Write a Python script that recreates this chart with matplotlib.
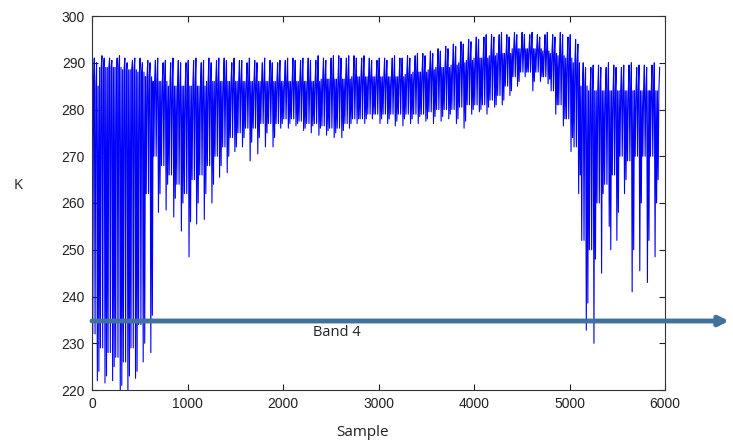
import numpy as np
import matplotlib
matplotlib.use("Agg")
import matplotlib.pyplot as plt

# ---- data (per 80-sample block) ----
block_len = 80
block_start = list(range(0, 6000, 80))[:75]
peak_k = [291, 291.5, 291, 291, 291, 290.5, 291, 290.5,
          290.5, 290, 290, 290.5, 290, 290.5, 290, 291, 290.5, 291, 290, 290.5,
          290, 290.5, 290, 290.5, 290,
          290.5, 291, 290.5, 291, 290.5, 291, 291, 291.5, 291, 291.5, 291, 291, 290.5,
          291, 291, 291, 291.5, 291.5, 292, 292.5, 293, 293.5, 294, 294.5, 295,
          295.5, 295.5, 296, 296, 296, 296.5, 296.5, 296, 296, 296, 296, 296.5,
          295.5, 295, 290, 289, 289.5, 289, 289.5, 289, 289.5, 289, 289.5, 289.5, 289]
peak2_k = [290, 291, 290.5, 291.5, 290, 291, 290, 290,
           291, 290.5, 291, 290, 290.5, 291, 290.5, 290, 291, 290.5, 291, 290.5,
           291, 290, 291, 290, 290.5,
           291, 290.5, 291, 290.5, 291.5, 290.5, 291.5, 291, 291.5, 291, 291.5, 290.5, 291,
           290.5, 291.5, 291, 291, 292, 291.5, 292, 292.5, 293, 293.5, 294, 294.5,
           295, 296, 295.5, 296.5, 295.5, 296, 296, 296.5, 295.5, 296.5, 295.5, 296,
           296, 294, 289, 289.5, 289, 290, 289, 289.5, 290, 289.5, 289, 290, 288.5]
band_hi = [285, 289, 289, 289, 288.5, 288.5, 288, 287,
           286, 286, 285, 285, 285, 285, 285, 286, 286, 286, 286, 286,
           286, 286, 286, 286, 286,
           286, 286, 286, 286, 286, 286.5, 286.5, 286.5, 286.5, 287, 287, 287, 287,
           287, 287, 287, 287.5, 288, 288, 288.5, 289, 289, 289.5, 290, 290.5,
           291, 291, 291.5, 292, 292, 293, 293, 293, 293, 292.5, 292, 291.5,
           291, 290, 285, 284, 284, 284, 284, 284, 284, 284, 284, 284, 284]
band_lo = [232, 229, 228, 227, 226, 229, 234, 262,
           270, 268, 266, 264, 262, 265, 266, 268, 270, 272, 274, 275,
           276, 276, 277, 277, 277,
           278, 278, 277.5, 277, 277, 276.5, 276, 276, 277, 278, 278, 279, 279,
           279, 279, 279, 279, 279, 279, 279.5, 280, 280, 280, 280.5, 281,
           281, 281, 282, 283, 285, 287, 288, 288, 288, 287, 284, 281,
           278, 272, 252, 250, 260, 264, 266, 270, 269, 270, 270, 270, 265]
dip_k = [222, 221.5, 222, 219, 218, 222.5, 226, 228,
         258, 258.5, 257, 254, 248.5, 255.5, 256.5, 260, 265.5, 266.5, 271, 272,
         269, 270.5, 272, 272, 276,
         276, 276.5, 275.5, 275, 274.5, 274.5, 274, 274, 276, 277, 277, 278, 277,
         277, 276.5, 276.5, 277, 277, 277.5, 277, 277.5, 278, 277, 276, 279,
         279.5, 279, 280.5, 281, 283, 285, 287, 284, 286, 285.5, 279, 276.5,
         271, 262, 232.8, 230, 245, 255, 252, 262, 241, 245.5, 243, 248.5, 249]
dip2_k = [224, 223, 225, 221, 223, 224, 230, 236,
          262, 264, 261, 260, 256, 260, 262, 264, 268, 270, 272, 274, 273, 274, 275, 274, 277,
          277, 277, 276, 276.5, 276, 275.5, 275, 275.5, 277, 278, 278, 279, 278,
          278, 277.5, 278, 278, 278.5, 278, 278.5, 278.5, 279, 278, 277.5, 280,
          280, 280.5, 281, 282, 284, 286, 288, 286, 287, 286.5, 281, 278,
          274, 266, 238.6, 248, 262, 250, 258, 265, 250, 260, 252, 260, 251.4]
last_sample = 5950

# ---- build the trace: dense oscillation between band levels, peaks and dips per block ----
step = 8
xs, ys = [], []
for s0, pk, pk2, hi, lo, dp, dp2 in zip(block_start, peak_k, peak2_k, band_hi,
                                        band_lo, dip_k, dip2_k):
    levels = [hi, lo, hi, pk, lo, hi, pk2, dp, hi, dp2]
    for j, v in enumerate(levels):
        x = s0 + j * step
        if x > last_sample:
            break
        xs.append(x)
        ys.append(v)

fig = plt.figure(figsize=(7.33, 4.42), dpi=100)
ax = fig.add_axes([92 / 733, 52 / 442, 573 / 733, 374 / 442])
ax.plot(xs, ys, color="#0000ff", lw=0.8)

ax.set_xlim(0, 6000)
ax.set_ylim(220, 300)
ax.set_xticks(range(0, 6001, 1000))
ax.set_yticks(range(220, 301, 10))
ax.tick_params(direction="in", length=4, top=True, right=True, width=0.8,
               labelsize=10, colors="#222222", pad=5)
for lab in ax.get_xticklabels() + ax.get_yticklabels():
    lab.set_family("Liberation Sans")
for sp in ax.spines.values():
    sp.set_linewidth(0.8)
    sp.set_color("#333333")

fig.text(18 / 733, 1 - 185 / 442, "K", fontsize=10.5, family="Open Sans",
         ha="center", va="center", color="#222222")
fig.text(363 / 733, 1 - 432 / 442, "Sample", fontsize=11, family="Open Sans",
         ha="center", va="center", color="#222222")

# Band 4 arrow
y_arrow = 442 - 321
ax.annotate("", xy=(729, y_arrow), xytext=(92, y_arrow),
            xycoords="figure pixels", textcoords="figure pixels",
            arrowprops=dict(arrowstyle="-|>", color="#41719c", lw=3.5,
                            mutation_scale=14, shrinkA=0, shrinkB=0))
fig.text(337 / 733, 1 - 333 / 442, "Band 4", fontsize=10.5, family="Open Sans",
         ha="center", va="center", color="#222222")

fig.savefig("out.png", dpi=100)
